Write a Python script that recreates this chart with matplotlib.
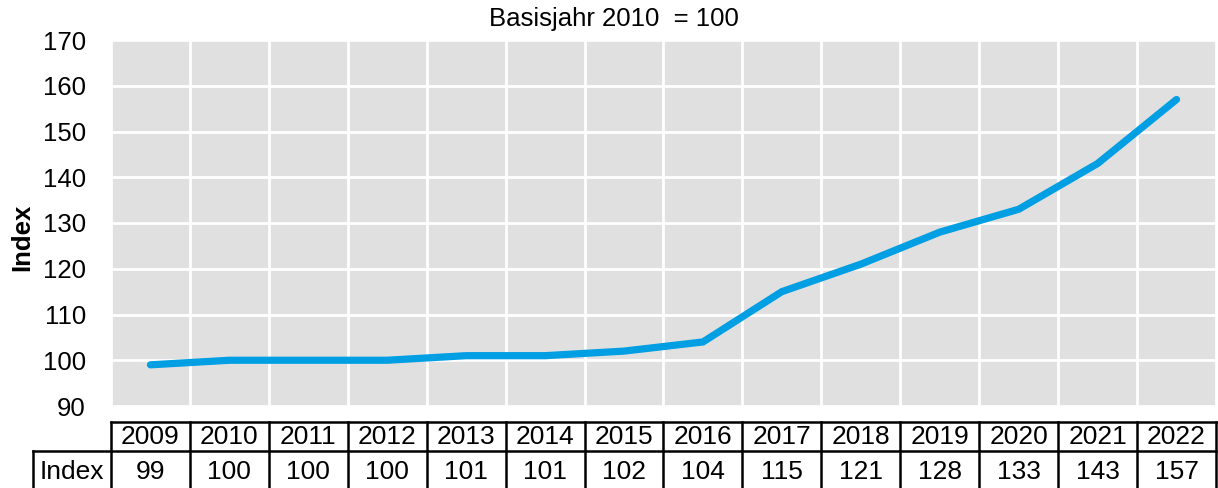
import numpy as np
import matplotlib.pyplot as plt

plt.rcParams['font.family'] = ['Liberation Sans', 'DejaVu Sans']

years = ['2009', '2010', '2011', '2012', '2013', '2014', '2015',
         '2016', '2017', '2018', '2019', '2020', '2021', '2022']
index_values = [99, 100, 100, 100, 101, 101, 102, 104, 115, 121, 128, 133, 143, 157]

W, H = 1218, 488
fig = plt.figure(figsize=(W / 100, H / 100), dpi=100)
ax = fig.add_axes([111 / W, 1 - 406 / H, 1105 / W, 366 / H])

x = np.arange(len(years))
ax.set_facecolor('#e0e0e0')
ax.plot(x, index_values, color='#009fe3', lw=5.2, solid_capstyle='round',
        solid_joinstyle='miter', zorder=3)

ax.set_xlim(-0.5, len(years) - 0.5)
ax.set_ylim(90, 170)
ax.set_yticks(np.arange(90, 171, 10))
ax.set_xticks(np.arange(len(years) + 1) - 0.5)
ax.set_xticklabels([])
ax.tick_params(axis='both', length=0, labelsize=18.5)
ax.tick_params(axis='y', pad=18)
ax.grid(True, color='white', lw=2)
ax.set_axisbelow(True)
for s in ax.spines.values():
    s.set_visible(False)

fig.text(614 / W, 1 - 19 / H, 'Basisjahr 2010  = 100', ha='center', va='center', fontsize=18.5)
fig.text(22 / W, 1 - 237 / H, 'Index', rotation=90, ha='center', va='center',
         fontsize=18.5, fontweight='bold')

# data table below the chart
tr = ax.get_xaxis_transform()
y_top = -16 / 366
y_mid = -45 / 366
y_bot = -90 / 366
left_cell = -0.5 - 78 / (1105 / 14)
kw = dict(color='black', lw=1.8, transform=tr, clip_on=False)
ax.plot([-0.5, len(years) - 0.5], [y_top, y_top], **kw)
ax.plot([left_cell, len(years) - 0.5], [y_mid, y_mid], **kw)
ax.plot([left_cell, left_cell], [y_mid, y_bot], **kw)
for b in np.arange(len(years) + 1) - 0.5:
    ax.plot([b, b], [y_top, y_bot], **kw)
for i, (yr, v) in enumerate(zip(years, index_values)):
    ax.text(i, -30.5 / 366, yr, transform=tr, ha='center', va='center', fontsize=19)
    ax.text(i, -66 / 366, str(v), transform=tr, ha='center', va='center', fontsize=19)
ax.text((left_cell - 0.5) / 2, -66 / 366, 'Index', transform=tr, ha='center', va='center', fontsize=19)

fig.savefig('out.png', dpi=100)
